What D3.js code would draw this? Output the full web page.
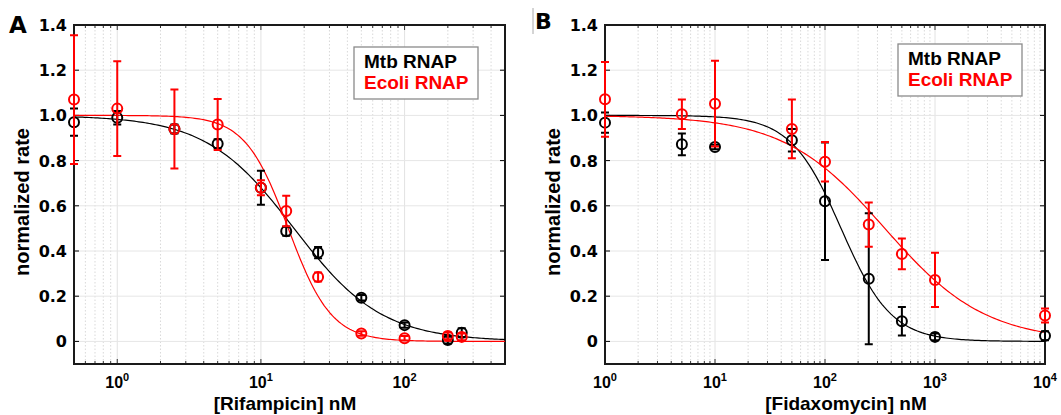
<!DOCTYPE html>
<html>
<head>
<meta charset="utf-8">
<script src="https://cdn.jsdelivr.net/npm/d3@7"></script>
<style>
  body { margin: 0; background: #fff; }
  svg text { font-family: "Liberation Sans", Arial, sans-serif; font-weight: bold; }
</style>
</head>
<body>
<div id="chart"></div>
<script>
// data
var yTicks = [0, 0.2, 0.4, 0.6, 0.8, 1.0, 1.2, 1.4];
var yTickLabels = ["0", "0.2", "0.4", "0.6", "0.8", "1.0", "1.2", "1.4"];
var seriesNames = ["Mtb RNAP", "Ecoli RNAP"];
var seriesColors = ["#000000", "#ff0000"];

// panel A - rifampicin
var aConc = [0.5, 1, 2.5, 5, 10, 15, 25, 50, 100, 200, 250];
var aMtb = [0.97, 0.99, 0.94, 0.875, 0.68, 0.487, 0.393, 0.193, 0.072, 0.006, 0.038];
var aMtbErr = [0.06, 0.03, 0.02, 0.02, 0.075, 0.02, 0.025, 0.012, 0.012, 0.015, 0.02];
var aEcoli = [1.07, 1.03, 0.94, 0.96, 0.68, 0.577, 0.285, 0.035, 0.014, 0.024, 0.02];
var aEcoliErr = [0.285, 0.21, 0.175, 0.113, 0.033, 0.068, 0.02, 0.01, 0.01, 0.015, 0.015];
var aTicks = [1, 10, 100];
var aTickExp = ["0", "1", "2"];
// fitted dose response: [IC50, hill]
var aFitMtb = [17, 1.42];
var aFitEcoli = [15.5, 2.9];

// panel B - fidaxomycin
var bConc = [1, 5, 10, 50, 100, 250, 500, 1000, 10000];
var bMtb = [0.968, 0.872, 0.86, 0.89, 0.62, 0.277, 0.089, 0.02, 0.025];
var bMtbErr = [0.045, 0.048, 0.01, 0.05, 0.26, 0.29, 0.063, 0.015, 0.02];
var bEcoli = [1.071, 1.005, 1.052, 0.94, 0.795, 0.517, 0.387, 0.272, 0.115];
var bEcoliErr = [0.165, 0.065, 0.19, 0.13, 0.087, 0.098, 0.068, 0.12, 0.031];
var bTicks = [1, 10, 100, 1000, 10000];
var bTickExp = ["0", "1", "2", "3", "4"];
var bFitMtb = [140, 1.9];
var bFitEcoli = [350, 0.95];

var width = 1061, height = 415;

var svg = d3.select("#chart").append("svg")
    .attr("width", width)
    .attr("height", height);

function hill(p) {
  return function (c) { return 1 / (1 + Math.pow(c / p[0], p[1])); };
}

function drawPanel(o) {
  var x = d3.scaleLog().domain(o.domain).range([o.left, o.right]);
  var y = d3.scaleLinear().domain([-0.1, 1.4]).range([364, 25]);
  var g = svg.append("g");

  // minor grid (dotted) and decade grid
  var minors = x.ticks().filter(function (t) { return o.ticks.indexOf(t) < 0; });
  g.selectAll(".minor").data(minors).enter().append("line")
      .attr("x1", x).attr("x2", x).attr("y1", y.range()[0]).attr("y2", y.range()[1])
      .attr("stroke", "#cfcfcf").attr("stroke-width", 0.8).attr("stroke-dasharray", "1.5,2");
  g.selectAll(".major").data(o.ticks).enter().append("line")
      .attr("x1", x).attr("x2", x).attr("y1", y.range()[0]).attr("y2", y.range()[1])
      .attr("stroke", "#e2e2e2").attr("stroke-width", 1);
  g.selectAll(".hgrid").data(yTicks).enter().append("line")
      .attr("x1", o.left).attr("x2", o.right).attr("y1", y).attr("y2", y)
      .attr("stroke", "#e6e6e6").attr("stroke-width", 1);

  // inward ticks on all sides
  g.selectAll(".yt").data(yTicks).enter().append("path")
      .attr("d", function (d) {
        return "M" + o.left + "," + y(d) + "h5M" + o.right + "," + y(d) + "h-5";
      })
      .attr("stroke", "#000").attr("stroke-width", 1);
  g.selectAll(".xt").data(x.ticks()).enter().append("path")
      .attr("d", function (d) {
        var l = o.ticks.indexOf(d) >= 0 ? 5 : 3;
        return "M" + x(d) + "," + y.range()[0] + "v-" + l + "M" + x(d) + "," + y.range()[1] + "v" + l;
      })
      .attr("stroke", "#000").attr("stroke-width", 0.8);

  // frame
  g.append("rect")
      .attr("x", o.left).attr("y", y.range()[1])
      .attr("width", o.right - o.left).attr("height", y.range()[0] - y.range()[1])
      .attr("fill", "none").attr("stroke", "#1a1a1a").attr("stroke-width", 2);

  // y tick labels
  g.selectAll(".ylab").data(yTicks).enter().append("text")
      .attr("x", o.left - 7).attr("y", function (d) { return y(d) + 6; })
      .attr("text-anchor", "end")
      .style("font-family", "'DejaVu Sans', sans-serif")
      .style("font-size", "16px")
      .text(function (d, i) { return yTickLabels[i]; });

  // x tick labels 10^n
  var xl = g.selectAll(".xlab").data(o.ticks).enter().append("text")
      .attr("x", x).attr("y", 388)
      .attr("text-anchor", "middle")
      .style("font-size", "16px");
  xl.append("tspan").text("10");
  xl.append("tspan").attr("dy", -7).style("font-size", "11px")
      .text(function (d, i) { return o.exps[i]; });

  // axis titles
  g.append("text")
      .attr("transform", "translate(" + (o.left - 45) + "," + 202 + ") rotate(-90)")
      .attr("text-anchor", "middle")
      .style("font-size", "20px")
      .text("normalized rate");
  g.append("text")
      .attr("x", o.titleX).attr("y", 410)
      .attr("text-anchor", "middle")
      .style("font-size", "19px")
      .text(o.title);
  g.append("text")
      .attr("x", o.letterX).attr("y", o.letterY)
      .style("font-family", "'DejaVu Sans', sans-serif")
      .style("font-size", o.letterSize)
      .text(o.letter);

  // fitted curves
  var cx = d3.range(0, 201).map(function (i) {
    var lo = Math.log10(o.domain[0]), hi = Math.log10(o.domain[1]);
    return Math.pow(10, lo + (hi - lo) * i / 200);
  });
  var line = d3.line().x(function (d) { return x(d[0]); }).y(function (d) { return y(d[1]); });
  o.fits.forEach(function (p, k) {
    var f = hill(p);
    g.append("path")
        .datum(cx.map(function (c) { return [c, f(c)]; }))
        .attr("d", line)
        .attr("fill", "none")
        .attr("stroke", seriesColors[k])
        .attr("stroke-width", 1.2);
  });

  // points with error bars
  o.series.forEach(function (s, k) {
    var pts = o.conc.map(function (c, i) { return { c: c, v: s[0][i], e: s[1][i] }; });
    var sg = g.append("g").attr("stroke", seriesColors[k]).attr("fill", "none").attr("stroke-width", 2);
    sg.selectAll(".eb").data(pts).enter().append("path")
        .attr("d", function (d) {
          var px = x(d.c), y0 = y(d.v - d.e), y1 = y(d.v + d.e);
          return "M" + px + "," + y0 + "V" + y1 +
            "M" + (px - 4) + "," + y0 + "h8M" + (px - 4) + "," + y1 + "h8";
        });
    sg.selectAll(".pt").data(pts).enter().append("circle")
        .attr("cx", function (d) { return x(d.c); })
        .attr("cy", function (d) { return y(d.v); })
        .attr("r", 5);
  });

  // legend
  var lg = g.append("g");
  lg.append("rect")
      .attr("x", o.legX).attr("y", o.legY).attr("width", 124).attr("height", 52)
      .attr("fill", "#fff").attr("stroke", "#8a8a8a").attr("stroke-width", 1.3);
  seriesNames.forEach(function (n, k) {
    lg.append("text")
        .attr("x", o.legX + 10).attr("y", o.legY + 21 + k * 21)
        .attr("fill", seriesColors[k])
        .style("font-size", "19px")
        .text(n);
  });
}

drawPanel({
  domain: [0.5, 500], left: 74, right: 505,
  ticks: aTicks, exps: aTickExp,
  conc: aConc, series: [[aMtb, aMtbErr], [aEcoli, aEcoliErr]],
  fits: [aFitMtb, aFitEcoli],
  title: "[Rifampicin] nM", titleX: 285,
  letter: "A", letterX: 9, letterY: 33, letterSize: "23px",
  legX: 354, legY: 47
});

drawPanel({
  domain: [1, 10000], left: 605, right: 1045,
  ticks: bTicks, exps: bTickExp,
  conc: bConc, series: [[bMtb, bMtbErr], [bEcoli, bEcoliErr]],
  fits: [bFitMtb, bFitEcoli],
  title: "[Fidaxomycin] nM", titleX: 846,
  letter: "B", letterX: 535, letterY: 29, letterSize: "22px",
  legX: 898, legY: 44
});

// thin crop edge left of panel B
svg.append("line").attr("x1", 533).attr("x2", 533).attr("y1", 8).attr("y2", 34)
    .attr("stroke", "#aaa").attr("stroke-width", 1);
</script>
</body>
</html>
